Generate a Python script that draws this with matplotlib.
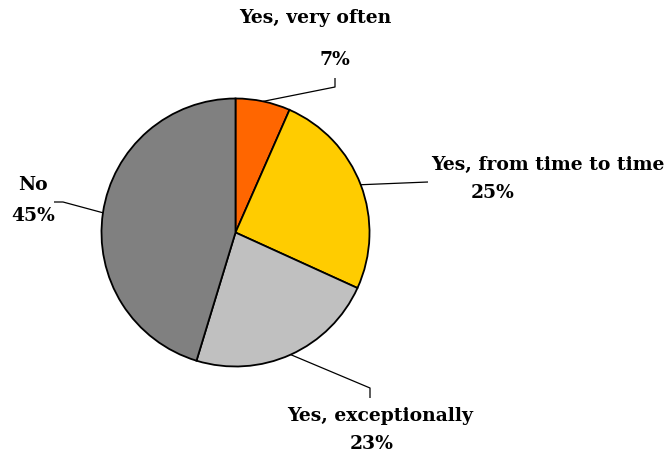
import numpy as np
import matplotlib
matplotlib.use("Agg")
import matplotlib.pyplot as plt

categories = ["Yes, very often", "Yes, from time to time", "Yes, exceptionally", "No"]
values = [6.6, 25.2, 22.9, 45.3]
pct_labels = ["7%", "25%", "23%", "45%"]
colors = ["#FF6600", "#FFCC00", "#C0C0C0", "#808080"]

W, H = 672, 457
fig = plt.figure(figsize=(W / 100, H / 100), dpi=100)
ax = fig.add_axes([0, 0, 1, 1])

cx, cy, r = 235.5, H - 232.5, 134
ax.pie(values, colors=colors, startangle=90, counterclock=False,
       center=(cx, cy), radius=r, frame=True,
       wedgeprops=dict(edgecolor="black", linewidth=1.3))
ax.set_xlim(0, W)
ax.set_ylim(0, H)
ax.set_aspect("equal")
ax.axis("off")

# mid-angles of each wedge
cum = np.cumsum([0] + values)
total = sum(values)
mids = [np.deg2rad(90 - 360 * (cum[i] + values[i] / 2) / total) for i in range(len(values))]
starts = [(cx + r * np.cos(a), cy + r * np.sin(a)) for a in mids]

font = dict(family="DejaVu Serif", fontweight="bold", fontsize=13.5, color="black")

def Y(y):
    return H - y

# leader paths (elbow points in pixel layout), same order as categories
paths = [
    [(335, Y(87)), (335, Y(78))],
    [(428, Y(182))],
    [(370, Y(388)), (370, Y(398))],
    [(63, Y(202)), (54, Y(202))],
]
for (sx, sy), p in zip(starts, paths):
    xs = [sx] + [q[0] for q in p]
    ys = [sy] + [q[1] for q in p]
    ax.plot(xs, ys, color="black", lw=0.9, solid_capstyle="butt")

# labels
ax.text(315, Y(18), categories[0], ha="center", va="center", **font)
ax.text(335, Y(60), pct_labels[0], ha="center", va="center", **font)
ax.text(431, Y(165), categories[1], ha="left", va="center", **font)
ax.text(493, Y(193), pct_labels[1], ha="center", va="center", **font)
ax.text(33, Y(185), categories[3], ha="center", va="center", **font)
ax.text(33, Y(216), pct_labels[3], ha="center", va="center", **font)
ax.text(380, Y(416), categories[2], ha="center", va="center", **font)
ax.text(372, Y(444), pct_labels[2], ha="center", va="center", **font)

fig.savefig("out.png", dpi=100)
